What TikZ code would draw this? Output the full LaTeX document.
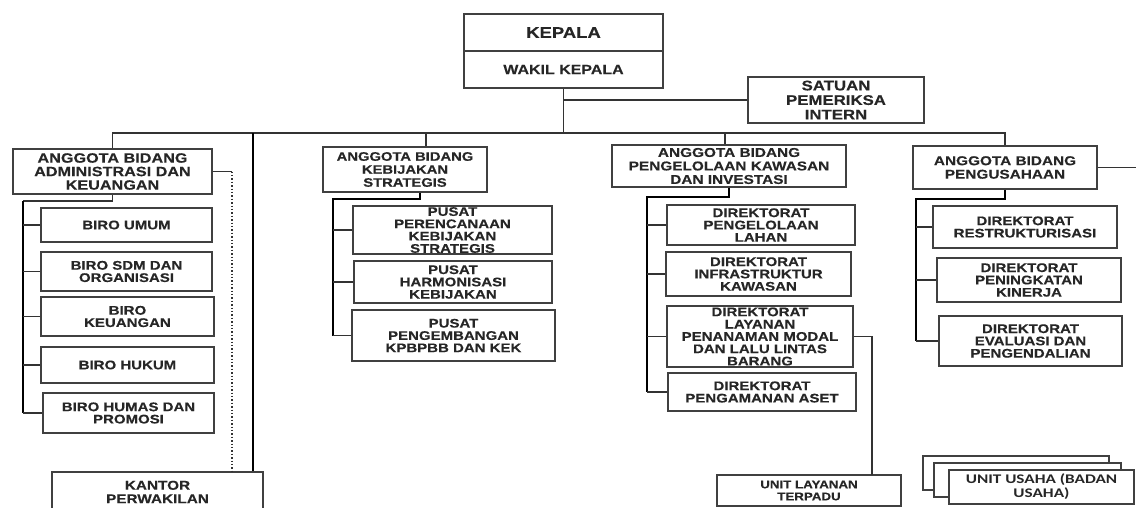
\documentclass[tikz,border=0pt]{standalone}
\usepackage{fontspec}
\setmainfont{Liberation Sans}[FakeStretch=1.2, BoldFeatures={FakeBold=0.25}]
\newfontfamily\calfont{Carlito}[FakeStretch=1.3]
\begin{document}
\begin{tikzpicture}[x=1pt,y=-1pt,
  box/.style={draw=black!75, line width=1.3pt, fill=white, align=center, inner sep=1pt, text=black!85},
  hdr/.style={box, font=\fontsize{12.8}{13.5}\selectfont\bfseries},
  chd/.style={box, font=\fontsize{12.5}{12.3}\selectfont\bfseries},
  ln/.style={draw=black!80, line width=1.3pt},
  bus/.style={draw=black, line width=2.5pt, line join=miter},
  dots/.style={draw=black!80, line width=1.4pt, dotted}]
\useasboundingbox (0,0) rectangle (1136,507);
\fill[white] (0,0) rectangle (1136,507);

% top
\node[box, minimum width=199pt, minimum height=37pt, font=\fontsize{15.4}{16}\selectfont\bfseries] (kepala) at (563.5,32.5) {KEPALA};
\node[box, minimum width=199pt, minimum height=37pt, font=\fontsize{13.3}{14}\selectfont\bfseries] (wakil) at (563.5,69.5) {WAKIL KEPALA};
\node[box, minimum width=176pt, minimum height=46pt, font=\fontsize{14}{14.5}\selectfont\bfseries] (spi) at (836,100) {SATUAN\\PEMERIKSA\\INTERN};

% headers
\node[hdr, minimum width=199pt, minimum height=45pt, font=\fontsize{13.5}{13.5}\selectfont\bfseries] (adm) at (112.5,171.5) {ANGGOTA BIDANG\\ADMINISTRASI DAN\\KEUANGAN};
\node[hdr, minimum width=164pt, minimum height=45pt, font=\fontsize{12.3}{13}\selectfont\bfseries] (keb) at (405,169.5) {ANGGOTA BIDANG\\KEBIJAKAN\\STRATEGIS};
\node[hdr, minimum width=234pt, minimum height=42pt] (pkw) at (729,166) {ANGGOTA BIDANG\\PENGELOLAAN KAWASAN\\DAN INVESTASI};
\node[hdr, minimum width=184pt, minimum height=43pt] (pgs) at (1005,167.5) {ANGGOTA BIDANG\\PENGUSAHAAN};

% column 1
\node[chd, minimum width=171pt, minimum height=34pt] (umum) at (126.5,225) {BIRO UMUM};
\node[chd, minimum width=171pt, minimum height=39pt] (sdm) at (126.5,271.5) {BIRO SDM DAN\\ORGANISASI};
\node[chd, minimum width=173pt, minimum height=39pt] (keu) at (127.5,316.5) {BIRO\\KEUANGAN};
\node[chd, minimum width=173pt, minimum height=36pt] (hukum) at (127.5,365) {BIRO HUKUM};
\node[chd, minimum width=171pt, minimum height=40pt] (humas) at (128.5,413) {BIRO HUMAS DAN\\PROMOSI};
\node[hdr, minimum width=211pt, minimum height=40pt] (kantor) at (157.5,492) {KANTOR\\PERWAKILAN};

% column 2
\node[chd, minimum width=199pt, minimum height=48pt] (pr) at (452.5,230) {PUSAT\\PERENCANAAN\\KEBIJAKAN\\STRATEGIS};
\node[chd, minimum width=198pt, minimum height=42pt] (hk) at (453,282) {PUSAT\\HARMONISASI\\KEBIJAKAN};
\node[chd, minimum width=203pt, minimum height=51pt] (pg) at (453.5,335.5) {PUSAT\\PENGEMBANGAN\\KPBPBB DAN KEK};

% column 3
\node[chd, minimum width=188pt, minimum height=40pt] (lahan) at (761,225) {DIREKTORAT\\PENGELOLAAN\\LAHAN};
\node[chd, minimum width=185pt, minimum height=44pt] (infra) at (758.5,274) {DIREKTORAT\\INFRASTRUKTUR\\KAWASAN};
\node[chd, minimum width=186pt, minimum height=61pt] (layanan) at (760,336.5) {DIREKTORAT\\LAYANAN\\PENANAMAN MODAL\\DAN LALU LINTAS\\BARANG};
\node[chd, minimum width=188pt, minimum height=38pt] (aset) at (762,392) {DIREKTORAT\\PENGAMANAN ASET};
\node[box, minimum width=184pt, minimum height=31pt, font=\fontsize{11.1}{12}\selectfont\bfseries] (ult) at (809,490.5) {UNIT LAYANAN\\TERPADU};

% column 4
\node[chd, minimum width=184pt, minimum height=42pt] (restr) at (1025,227) {DIREKTORAT\\RESTRUKTURISASI};
\node[chd, minimum width=184pt, minimum height=44pt] (pening) at (1029,280) {DIREKTORAT\\PENINGKATAN\\KINERJA};
\node[chd, minimum width=183pt, minimum height=50pt] (eval) at (1030.5,341) {DIREKTORAT\\EVALUASI DAN\\PENGENDALIAN};

% unit usaha stack
\node[box, minimum width=186pt, minimum height=34pt] (uu1) at (1016,473) {};
\node[box, minimum width=187pt, minimum height=34pt] (uu2) at (1027.5,480) {};
\node[box, minimum width=185pt, minimum height=34pt, font=\calfont\fontsize{13.2}{14}\selectfont\bfseries] (uu) at (1041.5,487) {UNIT USAHA (BADAN\\USAHA)};

% coordinates
\coordinate (top) at (0,133);
\coordinate (kebT) at (426,133);
\coordinate (pkwT) at (725,133);
\coordinate (kT) at (253,133);
\coordinate (dotT) at (232,171.5);
\coordinate (c1) at (23,201);
\coordinate (c2) at (333,199);
\coordinate (c3) at (647,197);
\coordinate (c4) at (916,199);
\coordinate (ultT) at (872,475);
\coordinate (pgsOut) at (1140,167.5);

% main connectors
\draw[ln] (wakil.south) -- (wakil.south |- top);
\draw[ln] (wakil.south |- spi.west) -- (spi.west);
\draw[ln] (adm.north) -- (adm.north |- top) -- (pgs.north |- top) -- (pgs.north);
\draw[ln] (kebT) -- (kebT |- keb.north);
\draw[ln] (pkwT) -- (pkwT |- pkw.north);
\draw[bus] (kT) -- (kT |- kantor.north);
\draw[ln] (adm.east) -- (dotT);
\draw[dots] (dotT) -- (dotT |- kantor.north);
\draw[ln] (pgs.east) -- (pgsOut);

% column buses
\draw[ln] (adm.south) -- (adm.south |- c1) -- (c1);
\draw[bus] (c1) -- (c1 |- humas.west);
\foreach \n in {umum,sdm,keu,hukum,humas} \draw[ln] (c1 |- \n.west) -- (\n.west);

\draw[bus] ([xshift=15pt]keb.south) |- (c2) -- (c2 |- pg.west);
\foreach \n in {pr,hk,pg} \draw[ln] (c2 |- \n.west) -- (\n.west);

\draw[bus] (pkw.south) |- (c3) -- (c3 |- aset.west);
\foreach \n in {lahan,infra,layanan,aset} \draw[ln] (c3 |- \n.west) -- (\n.west);
\draw[ln] (layanan.east) -| (ultT);

\draw[bus] (pgs.south) |- (c4) -- (c4 |- eval.west);
\foreach \n in {restr,pening,eval} \draw[ln] (c4 |- \n.west) -- (\n.west);
\end{tikzpicture}
\end{document}
